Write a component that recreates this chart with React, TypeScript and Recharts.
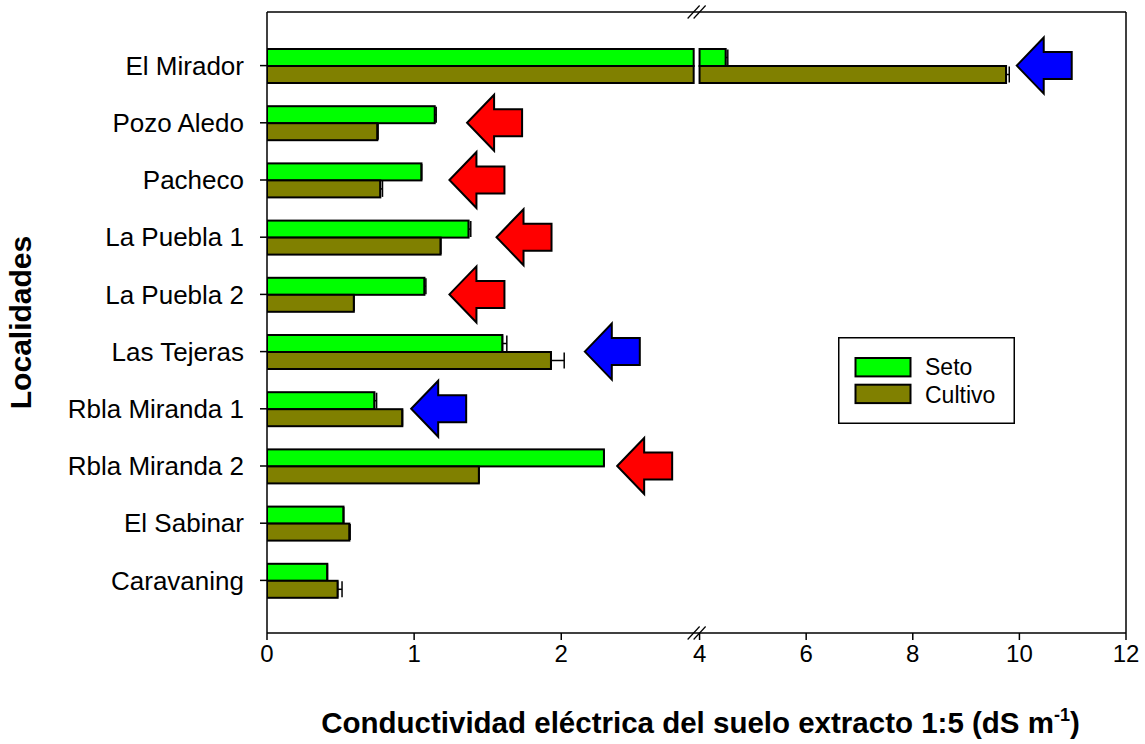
import React from "react";
import {
  BarChart,
  Bar,
  XAxis,
  YAxis,
  ErrorBar,
  CartesianGrid,
  ReferenceLine,
  ReferenceDot,
  Legend,
} from "recharts";

const FONT = '"Liberation Sans", Arial, sans-serif';

const sites = [
  "El Mirador",
  "Pozo Aledo",
  "Pacheco",
  "La Puebla 1",
  "La Puebla 2",
  "Las Tejeras",
  "Rbla Miranda 1",
  "Rbla Miranda 2",
  "El Sabinar",
  "Caravaning",
];
const seto = [4.49, 1.14, 1.05, 1.37, 1.07, 1.6, 0.73, 2.29, 0.52, 0.41];
const cultivo = [9.75, 0.75, 0.77, 1.18, 0.59, 1.93, 0.92, 1.44, 0.56, 0.48];
const setoErr = [0.04, 0.01, 0, 0.015, 0.01, 0.03, 0.015, 0, 0, 0];
const cultivoErr = [0.06, 0.005, 0.015, 0, 0, 0.09, 0, 0, 0.005, 0.03];

// sites flagged with an arrow, and where the arrow tip sits on the axis
const flaggedSites = [
  "El Mirador",
  "Pozo Aledo",
  "Pacheco",
  "La Puebla 1",
  "La Puebla 2",
  "Las Tejeras",
  "Rbla Miranda 1",
  "Rbla Miranda 2",
];
const flagAt = [9.95, 1.36, 1.24, 1.56, 1.24, 2.16, 0.98, 2.38];

const seriesNames = ["Seto", "Cultivo"];
const xTickValues = [0, 1, 2, 4, 6, 8, 10, 12];

const SETO_FILL = "#00ff00";
const CULTIVO_FILL = "#808000";

// broken x axis: 0..2.9 at full scale, then 4..12 compressed
const BREAK_LO = 2.9;
const BREAK_HI = 4;
const BREAK_GAP = 0.04;
const RIGHT_RATIO = 0.3623;
const U_HI = BREAK_LO + BREAK_GAP;

const toAxis = (v: number) =>
  v <= BREAK_LO ? v : v < BREAK_HI ? BREAK_LO : U_HI + (v - BREAK_HI) * RIGHT_RATIO;

const U_MAX = toAxis(12);
const xTicks = xTickValues.map(toAxis);
const tickLabel = (u: number) => {
  const i = xTicks.findIndex((t) => Math.abs(t - u) < 1e-6);
  return i >= 0 ? String(xTickValues[i]) : "";
};

const errSpan = (v: number, e: number) => [0, toAxis(v + e) - toAxis(v)];

const rows = sites.map((site, i) => ({
  site,
  seto: seto[i],
  cultivo: cultivo[i],
  setoAxis: toAxis(seto[i]),
  cultivoAxis: toAxis(cultivo[i]),
  setoErrAxis: errSpan(seto[i], setoErr[i]),
  cultivoErrAxis: errSpan(cultivo[i], cultivoErr[i]),
}));

const flags = flaggedSites.map((site, i) => {
  const k = sites.indexOf(site);
  return {
    site,
    at: toAxis(flagAt[i]),
    color: cultivo[k] > seto[k] ? "#0000ff" : "#ff0000",
  };
});

// bar that is split in two where it crosses the axis break
const brokenBar = (fill: string, key: "setoAxis" | "cultivoAxis") => (props: any) => {
  const { x, y, width, height, payload } = props;
  const u = payload[key];
  const common = { fill, stroke: "#000", strokeWidth: 2 };
  if (!(u > U_HI) || width <= 0) {
    return <rect x={x} y={y} width={width} height={height} {...common} />;
  }
  const k = width / u;
  const leftEnd = x + BREAK_LO * k;
  const rightStart = x + U_HI * k;
  return (
    <g>
      <rect x={x} y={y} width={leftEnd - x} height={height} {...common} />
      <rect x={rightStart} y={y} width={x + width - rightStart} height={height} {...common} />
    </g>
  );
};

const Arrow = ({ cx, cy, fill }: any) => {
  const head = 27;
  const half = 28;
  const shaft = 13.5;
  const len = 55;
  const pts = [
    [0, 0],
    [head, -half],
    [head, -shaft],
    [len, -shaft],
    [len, shaft],
    [head, shaft],
    [head, half],
  ]
    .map(([px, py]) => `${cx + px},${cy + py}`)
    .join(" ");
  return <polygon points={pts} fill={fill} stroke="#000" strokeWidth={2} strokeLinejoin="miter" />;
};

// "//" marks on the top and bottom frame lines at the axis break
const BreakMarks = (props: any) => {
  const { x1, y1, y2 } = props;
  const top = Math.min(y1, y2);
  const bottom = Math.max(y1, y2);
  const mark = (cy: number) => (
    <g>
      <line x1={x1 - 9} y1={cy + 6.5} x2={x1 + 3} y2={cy - 6.5} stroke="#000" strokeWidth={1.2} />
      <line x1={x1 - 3} y1={cy + 6.5} x2={x1 + 9} y2={cy - 6.5} stroke="#000" strokeWidth={1.2} />
    </g>
  );
  return (
    <g>
      {mark(top)}
      {mark(bottom)}
    </g>
  );
};

const XTitle = ({ viewBox }: any) => {
  const cx = viewBox.x + viewBox.width / 2 + 4;
  return (
    <text
      x={cx}
      y={viewBox.y + 100}
      textAnchor="middle"
      fontFamily={FONT}
      fontWeight="bold"
      fontSize={29.5}
      fill="#000"
    >
      Conductividad eléctrica del suelo extracto 1:5 (dS m
      <tspan dy={-12} fontSize={18}>
        -1
      </tspan>
      <tspan dy={12}>)</tspan>
    </text>
  );
};

const YTitle = ({ viewBox }: any) => {
  const cy = viewBox.y + viewBox.height / 2;
  const cx = 20;
  return (
    <text
      x={cx}
      y={cy}
      transform={`rotate(-90 ${cx} ${cy})`}
      textAnchor="middle"
      dominantBaseline="central"
      fontFamily={FONT}
      fontWeight="bold"
      fontSize={30}
      fill="#000"
    >
      Localidades
    </text>
  );
};

const LegendBox = ({ payload }: any) => {
  const items = ((payload || []) as any[])
    .slice()
    .sort((a, b) => seriesNames.indexOf(a.value) - seriesNames.indexOf(b.value));
  return (
    <svg width={177} height={87} style={{ display: "block" }}>
      <rect x={0.75} y={0.75} width={175.5} height={85.5} fill="#fff" stroke="#000" strokeWidth={1.5} />
      {items.map((p, i) => (
        <g key={p.value}>
          <rect
            x={17.5}
            y={21 + i * 26.7}
            width={55}
            height={18.4}
            fill={p.value === "Seto" ? SETO_FILL : CULTIVO_FILL}
            stroke="#000"
            strokeWidth={2}
          />
          <text x={87} y={38.4 + i * 27.6} fontFamily={FONT} fontSize={23} fill="#000">
            {p.value}
          </text>
        </g>
      ))}
    </svg>
  );
};

export default function App() {
  return (
    <div style={{ position: "absolute", left: 0, top: 0, fontFamily: FONT }}>
      <BarChart
        width={1140}
        height={740}
        data={rows}
        layout="vertical"
        barSize={17}
        barGap={0}
        margin={{ top: 12, right: 14, left: 0, bottom: 57 }}
      >
        <CartesianGrid
          stroke="#000"
          strokeWidth={1.5}
          horizontalCoordinatesGenerator={({ offset }: any) => [offset.top]}
          verticalCoordinatesGenerator={({ offset }: any) => [offset.left + offset.width]}
        />
        <XAxis
          type="number"
          domain={[0, U_MAX]}
          ticks={xTicks}
          interval={0}
          allowDataOverflow
          tickFormatter={tickLabel}
          tick={{ fontSize: 24, fill: "#000", fontFamily: FONT }}
          tickSize={7}
          tickMargin={5}
          axisLine={{ stroke: "#000", strokeWidth: 1.5 }}
          tickLine={{ stroke: "#000", strokeWidth: 1.5 }}
          height={50}
          label={<XTitle />}
        />
        <YAxis
          type="category"
          dataKey="site"
          width={267}
          interval={0}
          padding={{ top: 25, bottom: 24 }}
          tickSize={7}
          tickMargin={16}
          tick={{ fontSize: 26, fill: "#000", fontFamily: FONT }}
          axisLine={{ stroke: "#000", strokeWidth: 1.5 }}
          tickLine={{ stroke: "#000", strokeWidth: 1.5 }}
          label={<YTitle />}
        />
        <Legend
          layout="vertical"
          align="center"
          verticalAlign="middle"
          content={<LegendBox />}
          wrapperStyle={{ left: 838, top: 337, width: 177, height: 87 }}
        />
        <Bar
          dataKey="setoAxis"
          name="Seto"
          fill={SETO_FILL}
          stroke="#000"
          isAnimationActive={false}
          shape={brokenBar(SETO_FILL, "setoAxis")}
        >
          <ErrorBar dataKey="setoErrAxis" direction="x" width={8} stroke="#000" strokeWidth={1.5} />
        </Bar>
        <Bar
          dataKey="cultivoAxis"
          name="Cultivo"
          fill={CULTIVO_FILL}
          stroke="#000"
          isAnimationActive={false}
          shape={brokenBar(CULTIVO_FILL, "cultivoAxis")}
        >
          <ErrorBar dataKey="cultivoErrAxis" direction="x" width={8} stroke="#000" strokeWidth={1.5} />
        </Bar>
        <ReferenceLine x={(BREAK_LO + U_HI) / 2} stroke="none" shape={BreakMarks} />
        {flags.map((f) => (
          <ReferenceDot
            key={f.site}
            x={f.at}
            y={f.site}
            r={0}
            shape={(p: any) => <Arrow cx={p.cx} cy={p.cy} fill={f.color} />}
          />
        ))}
      </BarChart>
    </div>
  );
}
